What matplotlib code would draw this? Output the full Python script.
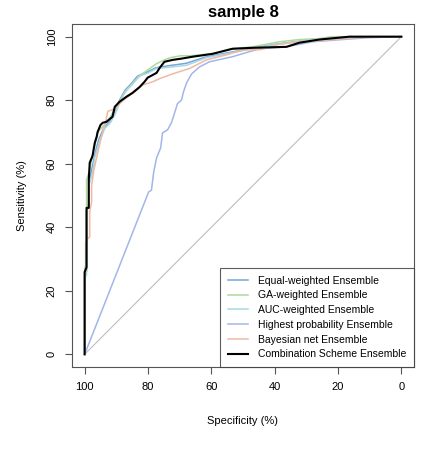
import matplotlib
matplotlib.use('Agg')
import matplotlib.pyplot as plt

plt.rcParams['font.family'] = ['Liberation Sans', 'DejaVu Sans']

# (specificity, sensitivity) vertices of each ROC curve, in %
equal_spec = [100, 100, 99.4, 99.4, 98.7, 98.7, 97.8, 96.8, 95.6, 94.0, 92.0, 90.5, 88.9, 87.2, 85.2,
              83.3, 80.4, 77.6, 72.5, 68.0, 61.8, 55.5, 47.0, 40.0, 32.0, 25.0, 17.0, 0]
equal_sens = [0, 25, 26, 45, 47, 54, 58, 63, 67.5, 71.2, 73.5, 76.5, 80.2, 83.2, 85.3,
              87.6, 88.8, 90.2, 91.0, 91.6, 93.6, 94.8, 96.4, 97.6, 98.6, 99.4, 100, 100]

ga_spec = [100, 100, 99.7, 99.7, 99.4, 99.4, 98.4, 97.5, 96.5, 95.9, 94.0, 92.0, 90.9, 87.4, 85.3,
           82.2, 77.3, 74.8, 72.9, 69.7, 66.6, 60.3, 57.1, 53.9, 47.0, 38.5, 32.2, 25.9, 22.0, 0]
ga_sens = [0, 27, 28, 35, 36, 55, 58, 63, 67, 70, 72, 74.5, 76.5, 82.3, 84.8,
           88.0, 91.5, 92.7, 93.4, 94.0, 94.0, 94.6, 95.3, 96.2, 96.8, 98.4, 99.1, 99.4, 100, 100]

auc_spec = [100, 100, 99.4, 99.4, 98.7, 98.7, 97.5, 96.8, 95.3, 93.7, 91.8, 90.2, 88.6, 87.0, 84.9,
            83.0, 80.1, 77.3, 72.2, 67.8, 61.5, 55.2, 47.0, 40.0, 32.0, 25.0, 16.0, 0]
auc_sens = [0, 24, 25, 45, 47, 53, 57, 62, 67, 71, 73, 76, 80, 83, 85,
            87.5, 88.5, 90, 90.5, 91, 93.4, 94.6, 96.2, 97.5, 98.5, 99.4, 100, 100]

high_spec = [100, 79.8, 78.9, 78.2, 77.3, 76.0, 75.4, 73.8, 72.6, 71.6, 70.7, 69.4, 68.8, 67.8, 66.2,
             63.7, 60.6, 53.3, 47.9, 44.8, 36.3, 28.1, 18.6, 10.1, 0]
high_sens = [0, 51.1, 51.7, 57.4, 61.8, 65.0, 69.7, 70.7, 72.9, 76.0, 78.9, 80.1, 82.6, 85.5, 88.3,
             90.5, 92.1, 93.7, 95.3, 96.2, 96.8, 98.4, 99.1, 99.7, 100]

bayes_spec = [100, 100, 99.4, 99.4, 98.4, 98.4, 97.8, 97.8, 97.1, 96.2, 95.3, 94.3, 93.4, 92.7, 90.5,
              88.3, 86.8, 84.2, 81.7, 78.5, 76.3, 72.2, 66.9, 61.5, 55.2, 49.8, 44.5, 39.1, 32.8,
              26.5, 18.0, 10.0, 0]
bayes_sens = [0, 26, 27, 36, 37, 45, 48, 53, 58, 62, 66, 70, 73, 76.5, 77.3,
              79.5, 80.8, 82.6, 84.8, 85.8, 86.8, 88.3, 90.0, 92.7, 94.3, 95.9, 95.9, 97.5, 98.4,
              98.7, 99.4, 100, 100]

comb_spec = [100, 100, 99.4, 99.4, 98.7, 98.7, 98.4, 97.5, 96.8, 96.2, 95.9, 95.0, 94.3, 93.1, 91.2,
             90.5, 89.0, 86.8, 84.9, 82.6, 81.1, 80.1, 77.3, 76.3, 74.8, 72.2, 69.4, 65.9, 59.6,
             53.3, 47.0, 36.3, 32.2, 25.9, 16.4, 0]
comb_sens = [0, 25.9, 27.4, 46.1, 46.1, 54.9, 60.3, 62.5, 66.6, 68.5, 70.0, 72.2, 72.9, 73.2, 74.8,
             77.9, 79.5, 81.1, 82.3, 84.2, 85.8, 87.1, 88.6, 90.2, 92.1, 92.7, 93.1, 93.7, 94.6,
             96.2, 96.5, 96.8, 98.1, 99.1, 100, 100]

labels = ['Equal-weighted Ensemble', 'GA-weighted Ensemble', 'AUC-weighted Ensemble',
          'Highest probability Ensemble', 'Bayesian net Ensemble', 'Combination Scheme Ensemble']
colors = ['#74A6D6', '#AEDA9C', '#A9D8E4', '#A3B6EA', '#EDBAA4', '#000000']

fig = plt.figure(figsize=(4.3, 4.5), dpi=100)
ax = fig.add_axes([0.1674, 0.1844, 0.7954, 0.7623])

ax.plot([100, 0], [0, 100], color='#BDBDBD', lw=0.8)

curves = [(equal_spec, equal_sens), (ga_spec, ga_sens), (auc_spec, auc_sens),
          (high_spec, high_sens), (bayes_spec, bayes_sens), (comb_spec, comb_sens)]
for (sx, sy), lab, col in zip(curves, labels, colors):
    lw = 1.5 if col == '#000000' else 1.1
    ax.plot(sx, sy, color=col, lw=lw, label=lab)

ax.set_xlim(104, -4)
ax.set_ylim(-4, 104)
ax.set_xticks([100, 80, 60, 40, 20, 0])
ax.set_yticks([0, 20, 40, 60, 80, 100])
ax.tick_params(length=5, width=0.8, color='#555555', labelsize=8, pad=6)
for lbl in ax.get_yticklabels():
    lbl.set_rotation(90)
    lbl.set_va('center')
for s in ax.spines.values():
    s.set_color('#555555')
    s.set_linewidth(0.8)

ax.set_xlabel('Specificity (%)', fontsize=8, labelpad=17)
ax.set_ylabel('Sensitivity (%)', fontsize=8, labelpad=14)
ax.set_title('sample 8', fontsize=12, fontweight='bold', pad=5)

leg = ax.legend(loc='lower right', fontsize=7.5, frameon=True, fancybox=False,
                borderaxespad=0, handlelength=1.9, handletextpad=0.95,
                labelspacing=0.45, borderpad=0.75)
leg.get_frame().set_edgecolor('#333333')
leg.get_frame().set_linewidth(0.8)

fig.savefig('out.png', dpi=100)
